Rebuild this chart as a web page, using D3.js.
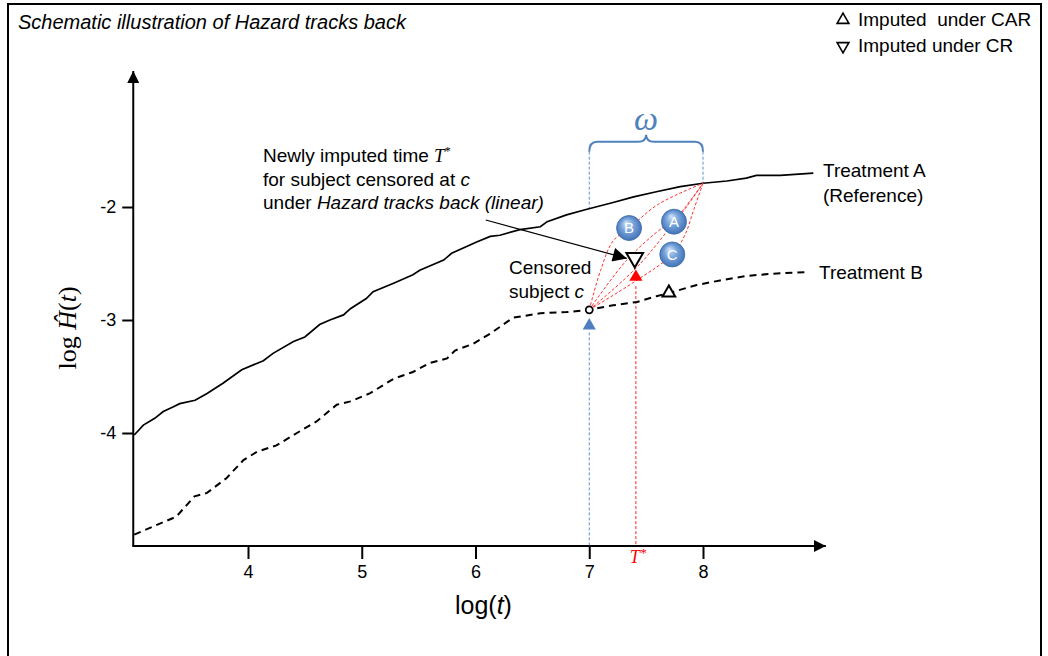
<!DOCTYPE html>
<html><head><meta charset="utf-8">
<script src="https://cdn.jsdelivr.net/npm/d3@7"></script>
<style>body{margin:0;background:#fff;} svg{display:block;}</style>
</head><body><svg id="chart" width="1048" height="656"></svg>
<script>
// ---------- data ----------
const xTicks = [4, 5, 6, 7, 8];
const yTicks = [-4, -3, -2];
// Treatment A (reference), solid
const aX = [3.0,3.08,3.18,3.255,3.34,3.40,3.535,3.64,3.78,3.945,4.135,4.22,4.40,4.50,4.63,4.72,4.84,4.90,5.04,5.10,5.28,5.45,5.51,5.72,5.79,6.01,6.13,6.215,6.39,6.57,6.63,6.80,6.98,7.21,7.39,7.59,7.80,8.00,8.21,8.38,8.47,8.68,8.97];
const aY = [-4.018,-3.93,-3.87,-3.81,-3.77,-3.74,-3.71,-3.65,-3.56,-3.44,-3.36,-3.295,-3.19,-3.15,-3.04,-3.00,-2.955,-2.90,-2.81,-2.75,-2.675,-2.60,-2.56,-2.47,-2.41,-2.31,-2.26,-2.25,-2.20,-2.175,-2.13,-2.07,-2.02,-1.96,-1.91,-1.865,-1.82,-1.79,-1.77,-1.745,-1.72,-1.72,-1.70];
// Treatment B, dashed
const bX = [3.0,3.23,3.37,3.53,3.64,3.81,3.96,4.08,4.25,4.43,4.60,4.78,4.90,5.07,5.28,5.45,5.60,5.75,5.82,5.98,6.13,6.33,6.57,6.80,7.0,7.21,7.42,7.59,7.74,7.945,8.15,8.38,8.62,8.93];
const bY = [-4.90,-4.80,-4.74,-4.56,-4.53,-4.40,-4.24,-4.165,-4.11,-4.00,-3.90,-3.75,-3.72,-3.65,-3.52,-3.46,-3.38,-3.34,-3.27,-3.21,-3.12,-2.98,-2.94,-2.93,-2.91,-2.87,-2.84,-2.79,-2.75,-2.69,-2.65,-2.61,-2.59,-2.575];
// key points
const censored = [7.0, -2.91];
const windowEnd = [8.0, -1.79];
const blueTri = [7.0, -3.05];
const carTri = [7.70, -2.76];
const crTri = [7.40, -2.45];
const tStar = [7.41, -2.62];
// lens (red dashed) curves, via points
const lensB = [[7.0,-2.91],[7.1,-2.56],[7.21,-2.30],[7.35,-2.19],[7.6,-1.98],[8.0,-1.79]];
const lensA = [[7.0,-2.91],[7.33,-2.47],[7.65,-2.18],[7.745,-2.13],[8.0,-1.79]];
const lensM = [[7.0,-2.91],[7.45,-2.5],[8.0,-1.79]];
const lensC = [[7.0,-2.91],[7.4,-2.66],[7.73,-2.42],[7.84,-2.25],[7.92,-2.02],[8.0,-1.79]];
const balls = [{k:"B", x:7.35, y:-2.186},{k:"A", x:7.745, y:-2.13},{k:"C", x:7.73, y:-2.42}];
const omegaRange = [7, 8];

// ---------- setup ----------
const svg = d3.select("#chart");
const x = d3.scaleLinear().domain([3, 9]).range([134.25, 816.75]);
const y = d3.scaleLinear().domain([-5, -2]).range([546, 207]);
const SANS = "'Liberation Sans', Arial, sans-serif";
const SERIF = "'Liberation Serif', 'Times New Roman', serif";

const defs = svg.append("defs");
defs.append("marker").attr("id","arr").attr("viewBox","0 0 10 10").attr("refX",10).attr("refY",5)
  .attr("markerWidth",12).attr("markerHeight",12).attr("markerUnits","userSpaceOnUse").attr("orient","auto")
  .append("path").attr("d","M0,0L10,5L0,10Z").attr("fill","#000");
defs.append("marker").attr("id","arr2").attr("viewBox","0 0 10 10").attr("refX",10).attr("refY",5)
  .attr("markerWidth",15).attr("markerHeight",14).attr("markerUnits","userSpaceOnUse").attr("orient","auto")
  .append("path").attr("d","M0,0L10,5L0,10Z").attr("fill","#000");
const rg = defs.append("radialGradient").attr("id","ball").attr("cx","50%").attr("cy","50%").attr("r","55%").attr("fx","38%").attr("fy","28%");
rg.append("stop").attr("offset","0%").attr("stop-color","#d3e3f7");
rg.append("stop").attr("offset","45%").attr("stop-color","#7ba6dc");
rg.append("stop").attr("offset","100%").attr("stop-color","#3b6db3");

// frame
svg.append("rect").attr("x",8).attr("y",4).attr("width",1033).attr("height",670)
  .attr("fill","none").attr("stroke","#000").attr("stroke-width",2);

// title
svg.append("text").attr("x",18).attr("y",29).attr("font-family",SANS).attr("font-size",20)
  .attr("font-style","italic").text("Schematic illustration of Hazard tracks back");

// legend
const lg = svg.append("g");
[["up","Imputed  under CAR",26],["down","Imputed under CR",52]].forEach(([d,t,by])=>{
  lg.append("path").attr("d", d3.symbol(d3.symbolTriangle, 60)())
    .attr("transform",`translate(843,${by-6}) rotate(${d==="up"?0:180})`)
    .attr("fill","none").attr("stroke","#000").attr("stroke-width",1.6);
  lg.append("text").attr("x",858).attr("y",by).attr("font-family",SANS).attr("font-size",19)
    .style("white-space","pre").attr("xml:space","preserve").text(t);
});

// axes
const xAxis = d3.axisBottom(x).tickValues(xTicks).tickSize(13).tickPadding(6).tickFormat(d3.format("d"));
const gx = svg.append("g").attr("transform",`translate(0,${y(-5)})`).call(xAxis);
gx.select(".domain").remove();
gx.selectAll(".tick line").attr("stroke","#000").attr("stroke-width",2);
gx.selectAll(".tick text").attr("font-family",SANS).attr("font-size",18).attr("fill","#000");

const yAxis = d3.axisLeft(y).tickValues(yTicks).tickSize(11).tickPadding(6).tickFormat(d=>"-"+Math.abs(d));
const gy = svg.append("g").attr("transform",`translate(${x(3)-1},0)`).call(yAxis);
gy.select(".domain").remove();
gy.selectAll(".tick line").attr("stroke","#000").attr("stroke-width",2);
gy.selectAll(".tick text").attr("font-family",SANS).attr("font-size",18).attr("fill","#000");

svg.append("line").attr("x1",x(3)-1).attr("y1",y(-5)).attr("x2",x(3)-1).attr("y2",y(-0.796))
  .attr("stroke","#000").attr("stroke-width",2).attr("marker-end","url(#arr)");
svg.append("line").attr("x1",x(3)-2).attr("y1",y(-5)).attr("x2",x(9.08)).attr("y2",y(-5))
  .attr("stroke","#000").attr("stroke-width",2).attr("marker-end","url(#arr)");

// axis titles
const xl = svg.append("text").attr("x",x(6.07)).attr("y",614).attr("text-anchor","middle")
  .attr("font-family",SANS).attr("font-size",25);
xl.append("tspan").text("log(");
xl.append("tspan").attr("font-style","italic").text("t");
xl.append("tspan").text(")");

const yl = svg.append("text").attr("transform",`translate(76,${y(-3.07)}) rotate(-90)`).attr("text-anchor","middle")
  .attr("font-family",SERIF).attr("font-size",26);
yl.append("tspan").text("log ");
yl.append("tspan").attr("font-style","italic").text("Ĥ");
yl.append("tspan").text("(");
yl.append("tspan").attr("font-style","italic").text("t");
yl.append("tspan").text(")");

// guide lines (vertical)
const guides = [
  {x:omegaRange[0], y1:-1.51, y2:-2.02, c:"#5b8fd0"},
  {x:omegaRange[1], y1:-1.51, y2:-1.79, c:"#5b8fd0"},
  {x:blueTri[0], y1:-3.11, y2:-5, c:"#5b8fd0"},
  {x:tStar[0], y1:-2.70, y2:-5, c:"#ff2020"}
];
svg.selectAll("line.guide").data(guides).enter().append("line").attr("class","guide")
  .attr("x1",d=>x(d.x)).attr("x2",d=>x(d.x)).attr("y1",d=>y(d.y1)).attr("y2",d=>y(d.y2))
  .attr("stroke",d=>d.c).attr("stroke-width",1).attr("stroke-dasharray","3,2");

// curves
const line = d3.line().x(d=>x(d[0])).y(d=>y(d[1]));
svg.append("path").attr("d", line(aX.map((v,i)=>[v,aY[i]])))
  .attr("fill","none").attr("stroke","#000").attr("stroke-width",1.7);
svg.append("path").attr("d", line(bX.map((v,i)=>[v,bY[i]])))
  .attr("fill","none").attr("stroke","#000").attr("stroke-width",2).attr("stroke-dasharray","7,5");

// lens
const smooth = d3.line().x(d=>x(d[0])).y(d=>y(d[1])).curve(d3.curveCatmullRom.alpha(0.5));
[lensB, lensA, lensM, lensC].forEach(p=>{
  svg.append("path").attr("d", smooth(p)).attr("fill","none").attr("stroke","#ff3030")
    .attr("stroke-width",1).attr("stroke-dasharray","3,2");
});

// omega brace
const bx0 = x(omegaRange[0]), bx1 = x(omegaRange[1]), bm = (bx0+bx1)/2, by = y(-1.51)-10;
svg.append("path").attr("d",
  `M${bx0},${by+10} Q${bx0},${by} ${bx0+8},${by} L${bm-8},${by} Q${bm},${by} ${bm},${by-7} Q${bm},${by} ${bm+8},${by} L${bx1-8},${by} Q${bx1},${by} ${bx1},${by+10}`)
  .attr("fill","none").attr("stroke","#4f81bd").attr("stroke-width",2);
svg.append("text").attr("x",bm).attr("y",by-12).attr("text-anchor","middle")
  .attr("font-family",SERIF).attr("font-style","italic").attr("font-size",34).attr("fill","#4f81bd").text("ω");

// balls
const bg = svg.selectAll("g.ball").data(balls).enter().append("g").attr("class","ball")
  .attr("transform",d=>`translate(${x(d.x)},${y(d.y)})`);
bg.append("circle").attr("r",12.5).attr("fill","url(#ball)").attr("stroke","#3a68a8").attr("stroke-width",0.8);
bg.append("text").attr("text-anchor","middle").attr("dy","0.36em").attr("font-family",SANS)
  .attr("font-size",15).attr("fill","#fff").text(d=>d.k);

// markers
svg.append("path").attr("d", d3.symbol(d3.symbolTriangle, 75)())
  .attr("transform",`translate(${x(blueTri[0])},${y(blueTri[1])})`).attr("fill","#4f7fc0");
svg.append("path").attr("d", d3.symbol(d3.symbolTriangle, 75)())
  .attr("transform",`translate(${x(tStar[0])},${y(tStar[1])})`).attr("fill","#ff0000");
svg.append("path").attr("d", d3.symbol(d3.symbolTriangle, 70)())
  .attr("transform",`translate(${x(carTri[0])},${y(carTri[1])})`).attr("fill","#fff").attr("stroke","#000").attr("stroke-width",2);
svg.append("path").attr("d", d3.symbol(d3.symbolTriangle, 120)())
  .attr("transform",`translate(${x(crTri[0])},${y(crTri[1])}) rotate(180)`).attr("fill","#fff").attr("stroke","#000").attr("stroke-width",2);
svg.append("circle").attr("cx",x(censored[0])).attr("cy",y(censored[1])).attr("r",3.5)
  .attr("fill","#fff").attr("stroke","#000").attr("stroke-width",1.8);

// T* label on axis
const tl = svg.append("text").attr("x",x(tStar[0])+2).attr("y",563).attr("text-anchor","middle")
  .attr("font-family",SERIF).attr("font-style","italic").attr("font-size",18).attr("fill","#ff0000");
tl.append("tspan").text("T");
tl.append("tspan").attr("dy",-6).attr("font-size",13).text("*");

// annotation
const ann = svg.append("text").attr("font-family",SANS).attr("font-size",19);
ann.append("tspan").attr("x",263).attr("y",162).text("Newly imputed time ");
ann.append("tspan").attr("font-family",SERIF).attr("font-style","italic").text("T");
ann.append("tspan").attr("font-family",SERIF).attr("font-size",12).attr("dy",-7).text("*");
ann.append("tspan").attr("x",263).attr("y",186).text("for subject censored at ");
ann.append("tspan").attr("font-style","italic").text("c");
ann.append("tspan").attr("x",263).attr("y",209).text("under ");
ann.append("tspan").attr("font-style","italic").text("Hazard tracks back (linear)");

svg.append("line").attr("x1",x(6.09)).attr("y1",y(-2.115)).attr("x2",x(7.33)).attr("y2",y(-2.455))
  .attr("stroke","#000").attr("stroke-width",1.2).attr("marker-end","url(#arr2)");

const cs = svg.append("text").attr("font-family",SANS).attr("font-size",19);
cs.append("tspan").attr("x",509).attr("y",274).text("Censored");
cs.append("tspan").attr("x",509).attr("y",298).text("subject ");
cs.append("tspan").attr("font-style","italic").text("c");

// series labels
const tg = svg.append("g").attr("font-family",SANS).attr("font-size",19);
tg.append("text").attr("x",823).attr("y",177).text("Treatment A");
tg.append("text").attr("x",823).attr("y",202).text("(Reference)");
tg.append("text").attr("x",819).attr("y",279).text("Treatment B");
</script></body></html>
